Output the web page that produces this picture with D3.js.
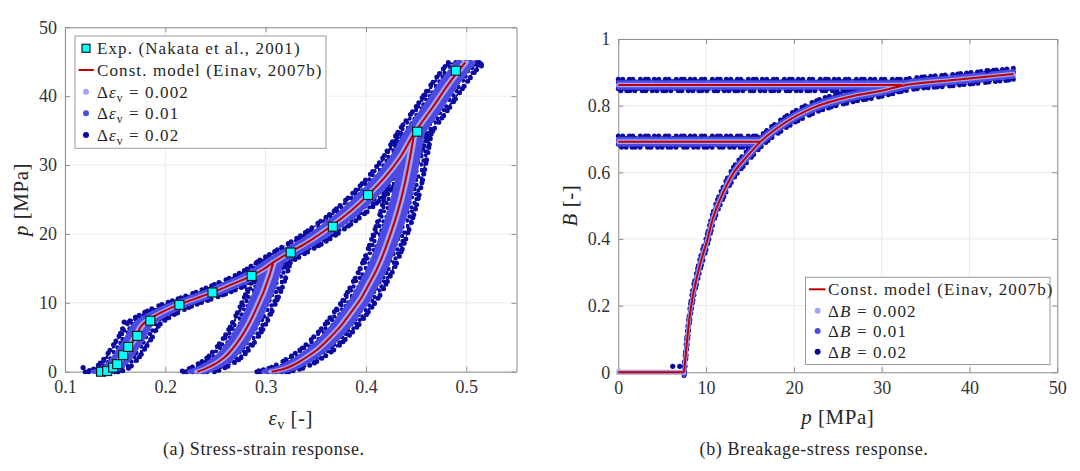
<!DOCTYPE html>
<html>
<head>
<meta charset="utf-8">
<script src="https://cdn.jsdelivr.net/npm/d3@7"></script>
<style>
  body { margin: 0; background: #fff; }
  text { font-family: "Liberation Serif", "DejaVu Serif", serif; white-space: pre; }
</style>
</head>
<body>
<svg id="chart" width="1080" height="471"></svg>
<script>
// ---- ticks ----
const epsTicks = [0.1, 0.2, 0.3, 0.4, 0.5];
const pTicksA = [0, 10, 20, 30, 40, 50];
const pTicksB = [0, 10, 20, 30, 40, 50];
const bTicks = [0, 0.2, 0.4, 0.6, 0.8, 1];

// ---- (a) stress-strain ----
const expEps = [0.136, 0.142, 0.148, 0.152, 0.158, 0.163, 0.172, 0.185, 0.214, 0.247, 0.286, 0.325, 0.367, 0.402, 0.451, 0.4896];
const expP = [0, 0.1, 0.6, 1.1, 2.4, 3.6, 5.2, 7.4, 9.7, 11.5, 13.9, 17.3, 21.05, 25.65, 34.85, 43.7];

const loadEps = [0.136, 0.142, 0.148, 0.153, 0.158, 0.163, 0.168, 0.172, 0.176, 0.180, 0.185, 0.196, 0.211, 0.228, 0.245, 0.265, 0.284, 0.297, 0.308, 0.324, 0.344, 0.364, 0.383, 0.401, 0.418, 0.434, 0.448, 0.467, 0.484, 0.499];
const loadP = [0, 0.2, 0.7, 1.4, 2.3, 3.4, 4.5, 5.5, 6.6, 7.2, 7.7, 8.6, 9.6, 10.5, 11.4, 12.6, 13.8, 14.8, 15.9, 17.3, 19.0, 21.0, 23.1, 25.5, 28.1, 31.1, 34.6, 38.5, 42.1, 44.9];

const loop1Eps = [0.232, 0.238, 0.2445, 0.251, 0.2578, 0.2645, 0.2711, 0.278, 0.2844, 0.2895, 0.2944, 0.298, 0.301, 0.3045, 0.3076];
const loop1P = [0, 0.3, 0.73, 1.25, 1.94, 2.9, 4.1, 5.6, 7.26, 8.8, 10.4, 11.6, 12.8, 14.3, 15.9];

const loop2Eps = [0.306, 0.317, 0.3276, 0.339, 0.351, 0.3625, 0.3741, 0.384, 0.394, 0.4025, 0.4105, 0.417, 0.423, 0.429, 0.4345, 0.4395, 0.444, 0.448];
const loop2P = [0, 0.35, 0.97, 1.95, 3.15, 4.7, 6.5, 8.4, 10.4, 12.6, 14.8, 17.0, 19.4, 22.0, 24.8, 27.9, 31.2, 34.6];

const strayEps = [0.515, 0.118, 0.159];
const strayP = [44.4, 0.6, 7.2];

// ---- (b) breakage-stress ----
const zeroP = [0, 7.49];
const zeroB = [0, 0];
const growP = [7.49, 8.17, 9.15, 10.13, 10.72, 11.9, 13.1, 14.65, 16.2, 18.6, 22.5, 26.4, 30.4, 32.3, 38.2, 45.0];
const growB = [0, 0.177, 0.307, 0.397, 0.457, 0.537, 0.597, 0.647, 0.692, 0.742, 0.797, 0.827, 0.847, 0.86, 0.877, 0.895];
const flat1P = [0, 16.2];
const flat1B = [0.692, 0.692];
const flat2P = [0, 32.3];
const flat2B = [0.862, 0.862];
const strayBP = [6.2, 7.0, 42.0];
const strayBB = [0.018, 0.018, 0.905];

const noiseLevels = [0.002, 0.01, 0.02];

// ---- styles ----
const red = "#c00000";
const blues = ["#a3a3f2", "#4b4be3", "#0a0aa0"];
const axisGrey = "#8f8f8f";
const spread = 0.85;
const speckle = "0 4.5 0 6.5 0 3.5 0 7.5 0 5 0 3 0 6";

const svg = d3.select("#chart");
const defs = svg.append("defs");
// irregular speckle tile for the coarsest scatter
const pat = defs.append("pattern").attr("id", "navyDots")
  .attr("width", 14).attr("height", 14).attr("patternUnits", "userSpaceOnUse");
[[1.5, 2], [6, 1], [10.5, 3], [3.5, 6.5], [8.5, 7], [12.5, 8.5], [1, 10.5], [5.5, 11.5], [10, 12]]
  .forEach(([cx, cy]) => pat.append("circle").attr("cx", cx).attr("cy", cy).attr("r", 2.2).attr("fill", blues[2]));

const xA = d3.scaleLinear().domain([0.1, 0.55]).range([65, 516.5]);
const yA = d3.scaleLinear().domain([0, 50]).range([371.7, 27.3]);
const xB = d3.scaleLinear().domain([0, 50]).range([618.3, 1057.3]);
const yB = d3.scaleLinear().domain([0, 1]).range([372.3, 39]);

function frame(x, y, xt, yt, xf, yf) {
  const [x0, x1] = x.range(), [y0, y1] = y.range();
  const g = svg.append("g");
  g.append("rect").attr("x", x0).attr("y", y1).attr("width", x1 - x0).attr("height", y0 - y1).attr("fill", "#fff");
  g.selectAll(".gx").data(xt).join("line")
    .attr("x1", d => x(d)).attr("x2", d => x(d)).attr("y1", y0).attr("y2", y1)
    .attr("stroke", "#ebebeb");
  g.selectAll(".gy").data(yt).join("line")
    .attr("y1", d => y(d)).attr("y2", d => y(d)).attr("x1", x0).attr("x2", x1)
    .attr("stroke", "#ebebeb");
  const axes = [
    [d3.axisBottom(x).tickValues(xt).tickFormat(xf).tickPadding(9), `translate(0,${y0})`],
    [d3.axisTop(x).tickValues(xt).tickFormat(""), `translate(0,${y1})`],
    [d3.axisLeft(y).tickValues(yt).tickFormat(yf).tickPadding(8), `translate(${x0},0)`],
    [d3.axisRight(y).tickValues(yt).tickFormat(""), `translate(${x1},0)`]
  ];
  axes.forEach(([ax, tr]) => {
    const a = g.append("g").attr("transform", tr)
      .call(ax.tickSizeInner(-5).tickSizeOuter(0))
      .attr("font-family", null).attr("font-size", 18).attr("color", "#333");
    a.select(".domain").attr("stroke", axisGrey);
    a.selectAll(".tick line").attr("stroke", axisGrey);
  });
  return g;
}

// draws the three scatter bands of a panel, coarsest first
function bands(g, curves, band) {
  [2, 1, 0].forEach(k => {
    g.selectAll(null).data(curves).join("path")
      .attr("d", band(noiseLevels[k]))
      .attr("fill", k === 2 ? "url(#navyDots)" : blues[k])
      .attr("stroke", blues[k])
      .attr("stroke-width", k === 2 ? 5 : (k === 1 ? 4 : 3.5))
      .attr("stroke-dasharray", k === 2 ? speckle : null)
      .attr("stroke-linecap", "round").attr("stroke-linejoin", "round");
  });
}

// ---------- panel (a) ----------
frame(xA, yA, epsTicks, pTicksA, d3.format(".1f"), d3.format("d"));

const curvesA = [[loadEps, loadP], [loop1Eps, loop1P], [loop2Eps, loop2P]]
  .map(([e, p]) => e.map((v, i) => ({ e: v, p: p[i] })));
const bandA = d => d3.area().curve(d3.curveMonotoneY)
  .y(q => yA(q.p)).x0(q => xA(q.e - d * spread)).x1(q => xA(q.e + d * spread));
const lineA = d3.line().curve(d3.curveMonotoneY).x(q => xA(q.e)).y(q => yA(q.p));

const gA = svg.append("g");
bands(gA, curvesA, bandA);
gA.selectAll(null).data(strayEps).join("circle")
  .attr("cx", d => xA(d)).attr("cy", (d, i) => yA(strayP[i])).attr("r", 2.6).attr("fill", blues[2]);
gA.selectAll(null).data(curvesA).join("path")
  .attr("d", lineA).attr("fill", "none").attr("stroke", red).attr("stroke-width", 2);
gA.selectAll(null).data(expEps).join("rect")
  .attr("x", d => xA(d) - 4.5).attr("y", (d, i) => yA(expP[i]) - 4.5)
  .attr("width", 9).attr("height", 9)
  .attr("fill", "#00ffff").attr("stroke", "#1c1c1c").attr("stroke-width", 1.2);

// ---------- panel (b) ----------
frame(xB, yB, pTicksB, bTicks, d3.format("d"), d => String(d));

const toPts = (p, b) => p.map((v, i) => ({ p: v, b: b[i] }));
const curvesB = [toPts(growP, growB), toPts(flat1P, flat1B), toPts(flat2P, flat2B)];
const zeroSeg = toPts(zeroP, zeroB);
const bandB = d => d3.area().curve(d3.curveMonotoneX)
  .x(q => xB(q.p)).y0(q => yB(q.b - d * spread)).y1(q => yB(q.b + d * spread));
const lineB = d3.line().curve(d3.curveMonotoneX).x(q => xB(q.p)).y(q => yB(q.b));

const gB = svg.append("g");
bands(gB, curvesB, bandB);
gB.append("path").attr("d", bandB(noiseLevels[0])(zeroSeg))
  .attr("fill", blues[0]).attr("stroke", blues[0]).attr("stroke-width", 4);
gB.selectAll(null).data(strayBP).join("circle")
  .attr("cx", d => xB(d)).attr("cy", (d, i) => yB(strayBB[i])).attr("r", 2.6).attr("fill", blues[2]);
gB.selectAll(null).data([zeroSeg, ...curvesB]).join("path")
  .attr("d", lineB).attr("fill", "none").attr("stroke", red).attr("stroke-width", 2);

// ---------- labels ----------
const lbl = svg.append("g").attr("fill", "#262626");
function mathEps(t) {
  t.append("tspan").attr("font-style", "italic").text("ε");
  t.append("tspan").attr("font-size", "0.68em").attr("dy", 4).text("v");
}
{
  const t = lbl.append("text").attr("x", 290.75).attr("y", 425).attr("text-anchor", "middle")
    .attr("font-size", 21).attr("letter-spacing", 0.5);
  mathEps(t);
  t.append("tspan").attr("dy", -4).text(" [-]");
}
{
  const t = lbl.append("text").attr("transform", "translate(28,199.5) rotate(-90)")
    .attr("text-anchor", "middle").attr("font-size", 21).attr("letter-spacing", 0.5);
  t.append("tspan").attr("font-style", "italic").text("p");
  t.append("tspan").text(" [MPa]");
}
{
  const t = lbl.append("text").attr("x", 837.8).attr("y", 424).attr("text-anchor", "middle")
    .attr("font-size", 21).attr("letter-spacing", 0.5);
  t.append("tspan").attr("font-style", "italic").text("p");
  t.append("tspan").text(" [MPa]");
}
{
  const t = lbl.append("text").attr("transform", "translate(577,205.6) rotate(-90)")
    .attr("text-anchor", "middle").attr("font-size", 21).attr("letter-spacing", 0.5);
  t.append("tspan").attr("font-style", "italic").text("B");
  t.append("tspan").text(" [-]");
}
lbl.append("text").attr("x", 263.8).attr("y", 455).attr("text-anchor", "middle")
  .attr("font-size", 18).attr("letter-spacing", 0.6).text("(a) Stress-strain response.");
lbl.append("text").attr("x", 814).attr("y", 455).attr("text-anchor", "middle")
  .attr("font-size", 18).attr("letter-spacing", 0.6).text("(b) Breakage-stress response.");

// ---------- legends ----------
function legendBox(x0, y0, x1, y1) {
  return svg.append("g").call(g => g.append("rect")
    .attr("x", x0).attr("y", y0).attr("width", x1 - x0).attr("height", y1 - y0)
    .attr("fill", "#fff").attr("stroke", "#9a9a9a").attr("stroke-width", 1));
}
function legendText(g, x, cy) {
  return g.append("text").attr("x", x).attr("y", cy + 6)
    .attr("font-size", 17).attr("letter-spacing", 1.1).attr("fill", "#262626");
}
function deltaText(t, sym, v) {
  t.append("tspan").text("Δ");
  if (sym === "eps") {
    mathEps(t);
    t.append("tspan").attr("dy", -4).text(" = " + v);
  } else {
    t.append("tspan").attr("font-style", "italic").text("B");
    t.append("tspan").text(" = " + v);
  }
}

// legend (a)
const legA = legendBox(75, 36, 326, 148.3);
const rowsA = [48.3, 70, 91.7, 113.3, 135];
legA.append("rect").attr("x", 82).attr("y", rowsA[0] - 4).attr("width", 8).attr("height", 8)
  .attr("fill", "#00ffff").attr("stroke", "#1c1c1c").attr("stroke-width", 1.2);
legendText(legA, 97, rowsA[0]).text("Exp. (Nakata et al., 2001)");
legA.append("line").attr("x1", 78.6).attr("x2", 93.8).attr("y1", rowsA[1]).attr("y2", rowsA[1])
  .attr("stroke", red).attr("stroke-width", 2);
legendText(legA, 97, rowsA[1]).text("Const. model (Einav, 2007b)");
noiseLevels.forEach((v, k) => {
  legA.append("circle").attr("cx", 86).attr("cy", rowsA[2 + k]).attr("r", 3).attr("fill", blues[k]);
  deltaText(legendText(legA, 97, rowsA[2 + k]), "eps", v);
});

// legend (b)
const legB = legendBox(805.5, 277.3, 1050, 364.5);
const rowsB = [289.3, 310.7, 331, 351.7];
legB.append("line").attr("x1", 809).attr("x2", 825.5).attr("y1", rowsB[0]).attr("y2", rowsB[0])
  .attr("stroke", red).attr("stroke-width", 2);
legendText(legB, 828, rowsB[0]).text("Const. model (Einav, 2007b)");
noiseLevels.forEach((v, k) => {
  legB.append("circle").attr("cx", 817.6).attr("cy", rowsB[1 + k]).attr("r", 3).attr("fill", blues[k]);
  deltaText(legendText(legB, 828, rowsB[1 + k]), "B", v);
});
</script>
</body>
</html>
